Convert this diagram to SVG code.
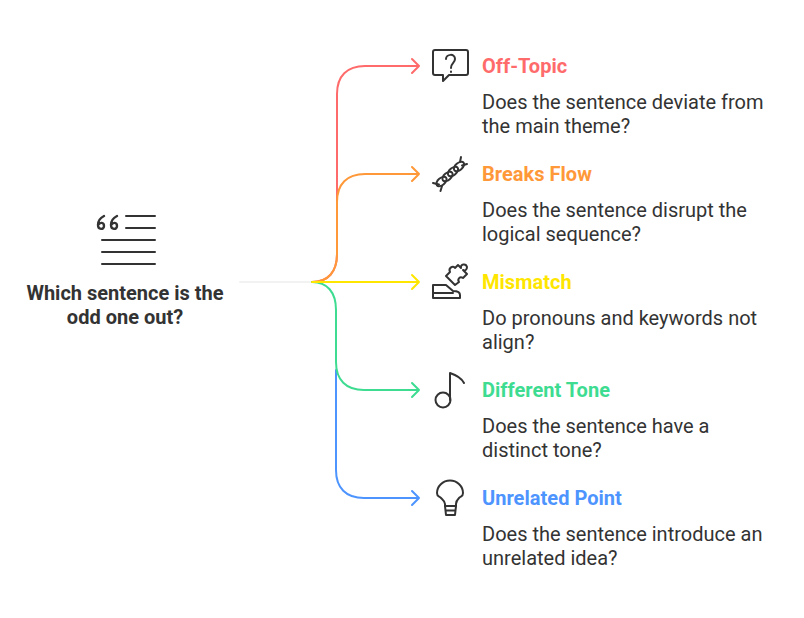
<svg xmlns="http://www.w3.org/2000/svg" width="804" height="618" viewBox="0 0 804 618">
<style>
.c{fill:none;stroke-width:2;stroke-linecap:round;stroke-linejoin:round}
.i{fill:none;stroke:#333;stroke-width:2;stroke-linecap:round;stroke-linejoin:round}
text{font-family:Roboto,"Liberation Sans",sans-serif}
.t{font-size:20px;font-weight:700;letter-spacing:.03px}
.d{font-size:20px;fill:#333}
.m{font-size:20px;font-weight:700;fill:#333;text-anchor:middle}
</style>
<rect width="804" height="618" fill="#fff"/>
<g id="connectors">
<path d="M240 282H312" class="c" stroke="#f2f2f2"/>
<path d="M312 282C328 282 337 272 337 254V94C337 76 347 66 365 66H419M412 59L419 66L412 73" class="c" stroke="#ff6b6b"/>
<path d="M312 282C328 282 337 272 337 254V202C337 184 347 174 365 174H419M412 167L419 174L412 181" class="c" stroke="#ff9838"/>
<path d="M336 370V470C336 488 346 498 364 498H419M412 491L419 498L412 505" class="c" stroke="#4d94ff"/>
<path d="M312 282C327 282 336 292 336 310V362C336 380 346 390 364 390H419M412 383L419 390L412 397" class="c" stroke="#3ddc91"/>
<path d="M312 282H419M412 275L419 282L412 289" class="c" stroke="#ffe600"/>
</g>
<g id="node-main">
<path d="M126 216H155M126 228H155M102 240H155M102 252H155M102 264H155" class="i"/>
<path d="M104 216C100 218 98 222 98 225C98 230 104 230 104 226C104 222 100 222 98 225M117 216C113 218 111 222 111 225C111 230 117 230 117 226C117 222 113 222 111 225" class="i" style="stroke-width:2.400"/>
<text class="m" x="125" y="300">Which sentence is the</text>
<text class="m" x="125" y="324">odd one out?</text>
</g>
<g id="node-off-topic">
<path d="M435 50H466Q468 50 468 52V73Q468 75 466 75H449L443 81V75H435Q433 75 433 73V52Q433 50 435 50Z" class="i"/>
<path d="M446 59C446 54 455 53 455 59C455 63 451 63 451 68M451 71.500V72" class="i"/>
<text class="t" x="482" y="73" fill="#ff6b6b">Off-Topic</text>
<text class="d" x="482" y="109">Does the sentence deviate from</text>
<text class="d" x="482" y="133">the main theme?</text>
</g>
<g id="node-breaks-flow">
<path d="M433 183L439 184.500M440.500 191L442 186M461 157L460 162M467 164L462 165.500" class="i"/>
<ellipse cx="441.500" cy="181.500" rx="6" ry="3.500" transform="rotate(-40 441.500 181.500)" class="i"/>
<ellipse cx="447.500" cy="176.500" rx="6" ry="3.500" transform="rotate(-40 447.500 176.500)" class="i"/>
<ellipse cx="453" cy="171.500" rx="6" ry="3.500" transform="rotate(-40 453 171.500)" class="i"/>
<ellipse cx="459" cy="166.500" rx="6" ry="3.500" transform="rotate(-40 459 166.500)" class="i"/>
<text class="t" x="482" y="181" fill="#ff9838">Breaks Flow</text>
<text class="d" x="482" y="217">Does the sentence disrupt the</text>
<text class="d" x="482" y="241">logical sequence?</text>
</g>
<g id="node-mismatch">
<path d="M433 298V285H446L453 291C457 291 460 292 460 295V298H433M433 293H453" class="i"/>
<path d="M446 276L450 272C448 268 453 265 455 268L458 265L461 268C460 264 466 263 467 267C467 270 465 271 463 270L467 274L463 278C460 276 457 279 459 282L455 285Z" class="i"/>
<text class="t" x="482" y="289" fill="#ffe600">Mismatch</text>
<text class="d" x="482" y="325">Do pronouns and keywords not</text>
<text class="d" x="482" y="349">align?</text>
</g>
<g id="node-different-tone">
<circle cx="443" cy="400" r="7.500" class="i"/>
<path d="M450 400V373C456 375 462 379 464 383" class="i"/>
<text class="t" x="482" y="397" fill="#3ddc91">Different Tone</text>
<text class="d" x="482" y="433">Does the sentence have a</text>
<text class="d" x="482" y="457">distinct tone?</text>
</g>
<g id="node-unrelated-point">
<path d="M445 506V504C445 501 443 500 441 498C439 496 437 497 437 493A13 12.500 0 1 1 463 493C463 497 461 496 459 498C457 500 456 501 456 504V506Z" class="i"/>
<path d="M445 506L446 515H455L456 506M445.500 510.500H455.500" class="i"/>
<text class="t" x="482" y="505" fill="#4d94ff">Unrelated Point</text>
<text class="d" x="482" y="541">Does the sentence introduce an</text>
<text class="d" x="482" y="565">unrelated idea?</text>
</g>
</svg>
